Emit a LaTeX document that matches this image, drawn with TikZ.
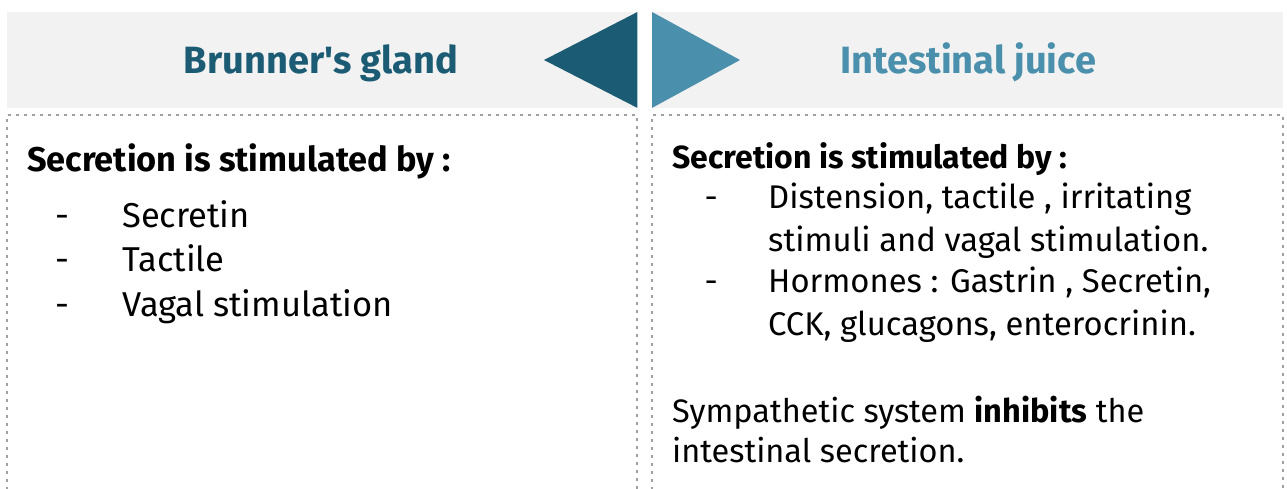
\documentclass[tikz,border=0pt]{standalone}
\usepackage{fontspec}
\setmainfont{Fira Sans}
\usetikzlibrary{positioning}
\definecolor{gland}{HTML}{1B5B73}
\definecolor{juice}{HTML}{4A8FAB}
\definecolor{bandgray}{HTML}{F2F2F2}
\definecolor{dotgray}{HTML}{A0A0A0}

\begin{document}
\begin{tikzpicture}[x=1pt, y=-1pt,
  band/.style = {fill=bandgray, draw=none, inner sep=0, minimum height=95.5pt, anchor=north west},
  title/.style = {font=\bfseries\fontsize{38}{44}\selectfont, anchor=base, inner sep=0},
  frame/.style = {draw=dotgray, line width=2.6pt, dash pattern=on 2.6pt off 5.4pt},
  head/.style = {font=\bfseries\fontsize{34.3}{40}\selectfont, anchor=base west, inner sep=0},
  item/.style = {font=\fontsize{34.5}{44.5}\selectfont, anchor=base west, inner sep=0, align=left},
  jitem/.style = {font=\fontsize{32.8}{42.5}\selectfont, anchor=base west, inner sep=0, align=left},
  bullet/.style = {anchor=base east, inner sep=0}]
  \useasboundingbox (0,0) rectangle (1287,488);

  % header bands and pointers
  \node[band, minimum width=630pt] (lband) at (7,12) {};
  \node[band, minimum width=631pt] (rband) at (652,12) {};
  \fill[gland] (lband.north east) -- (lband.south east) -- (544,60) -- cycle;
  \fill[juice] (rband.north west) -- (rband.south west) -- (740,60) -- cycle;
  \node[title, text=gland] (ltitle) at (321,73) {Brunner\textquotesingle s gland};
  \node[title, text=juice] (rtitle) at (968,73) {Intestinal juice};

  % dotted frames
  \draw[frame] (7,490) -- (7,115) -- (637,115) -- (637,490);
  \draw[frame] (652,490) -- (652,115) -- (1283,115) -- (1283,490);

  % Brunner's gland
  \node[head] (lhead) at (27,171) {Secretion is stimulated by :};
  \node[item] (l1) at (122,227) {Secretin};
  \node[item] (l2) at (122,271.5) {Tactile};
  \node[item] (l3) at (122,316) {Vagal stimulation};
  \foreach \i in {1,2,3}
    \node[item, bullet, left=52pt of l\i.base west, anchor=base east] {-};

  % intestinal juice (multi-line nodes sit on their last baseline)
  \node[head, font=\bfseries\fontsize{32}{40}\selectfont] (rhead) at (672,168) {Secretion is stimulated by :};
  \node[jitem] (r1) at (768,251) {Distension, tactile , irritating\\stimuli and vagal stimulation.};
  \node[jitem] (r2) at (768,335) {Hormones : Gastrin , Secretin,\\CCK, glucagons, enterocrinin.};
  \foreach \i in {1,2}
    \node[jitem, bullet] at ([xshift=-50pt, yshift=42.5pt]r\i.base west) {-};
  \node[item, font=\fontsize{32.5}{39.5}\selectfont] (rnote) at (672,462)
    {Sympathetic system \textbf{inhibits} the\\intestinal secretion.};
\end{tikzpicture}
\end{document}
